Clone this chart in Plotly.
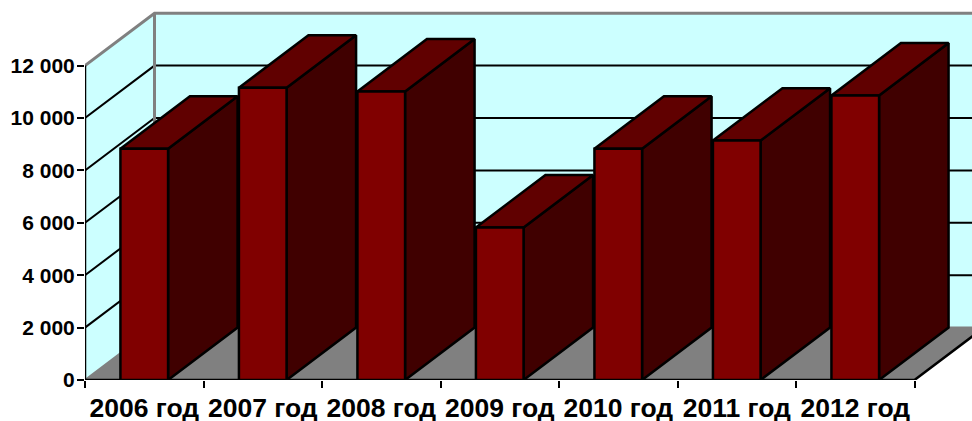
import plotly.graph_objects as go

categories = ["2006 год", "2007 год", "2008 год", "2009 год", "2010 год", "2011 год", "2012 год"]
values = [8830, 11156, 11015, 5823, 8830, 9140, 10862]
y_ticks = [0, 2000, 4000, 6000, 8000, 10000, 12000]
y_labels = ["0", "2 000", "4 000", "6 000", "8 000", "10 000", "12 000"]

WALL = "#CCFFFF"
FLOOR = "#808080"
FRONT = "#800000"
TOP = "#600000"
SIDE = "#400000"
DX = 0.5865   # oblique depth in category units
DY = 2000     # oblique depth in value units
BAR_W = 0.402
N = len(categories)
LW = 2.5

fig = go.Figure()


def poly(xs, ys, fill=None, line="black", width=LW):
    fig.add_trace(go.Scatter(
        x=xs, y=ys, mode="lines", cliponaxis=False, hoverinfo="skip", showlegend=False,
        fill="toself" if fill else None, fillcolor=fill,
        line=dict(color=line, width=width, simplify=False) if width else dict(width=0),
    ))


top = max(y_ticks)
# walls and floor
poly([0, DX, DX, 0, 0], [0, DY, top + DY, top, 0], WALL, width=0)
poly([DX, N + DX, N + DX, DX, DX], [DY, DY, top + DY, top + DY, DY], WALL, width=0)
poly([0, N, N + DX, DX, 0], [0, 0, DY, DY, 0], FLOOR, width=0)

# gridlines on left and back walls
for v in y_ticks[1:-1]:
    poly([0, DX, N + DX], [v, v + DY, v + DY], width=2)

# grey wall edges
poly([0, DX, N + DX], [top, top + DY, top + DY], line=FLOOR, width=3)
poly([DX, DX], [DY, top + DY], line=FLOOR, width=3)
poly([0, DX, N + DX], [0, DY, DY], line=FLOOR, width=2)

# axes lines and floor edge
poly([0, 0], [0, top])
poly([0, N, N + DX], [0, 0, DY])

# bars
for i, v in enumerate(values):
    x0 = i + 0.5 - BAR_W / 2
    x1 = i + 0.5 + BAR_W / 2
    poly([x1, x1 + DX, x1 + DX, x1, x1], [0, DY, v + DY, v, 0], SIDE)
    poly([x0, x1, x1 + DX, x0 + DX, x0], [v, v, v + DY, v + DY, v], TOP)
    poly([x0, x1, x1, x0, x0], [0, 0, v, v, 0], FRONT)

font = "Liberation Sans, Arial, sans-serif"
fig.update_layout(
    width=972, height=421, autosize=False,
    margin=dict(l=85, r=0, t=10, b=41),
    paper_bgcolor="white", plot_bgcolor="white",
    showlegend=False,
    xaxis=dict(
        range=[0, (972 - 85) / 118.5], showgrid=False, zeroline=False, showline=False,
        automargin=False,
        tickmode="array", tickvals=[i + 0.5 for i in range(N)], ticktext=categories,
        ticks="", tickangle=0, ticklabeloverflow="allow", ticklabelstandoff=9,
        tickfont=dict(family=font, size=26.5, color="black", weight="bold"),
        minor=dict(tickmode="array", tickvals=list(range(N + 1)), ticks="outside",
                   ticklen=7, tickwidth=2, tickcolor="black", showgrid=False),
    ),
    yaxis=dict(
        range=[0, 370 * 2000 / 52.4], showgrid=False, zeroline=False, showline=False,
        automargin=False,
        tickmode="array", tickvals=y_ticks, ticktext=y_labels,
        ticks="outside", ticklen=7, tickwidth=2, tickcolor="black", ticklabelstandoff=-2,
        tickfont=dict(family=font, size=21, color="black", weight="bold"),
    ),
)
fig.write_html(
    "out.html",
    config={"displayModeBar": False},
    post_script="document.body.style.margin='0';document.documentElement.style.overflow='hidden';",
)
